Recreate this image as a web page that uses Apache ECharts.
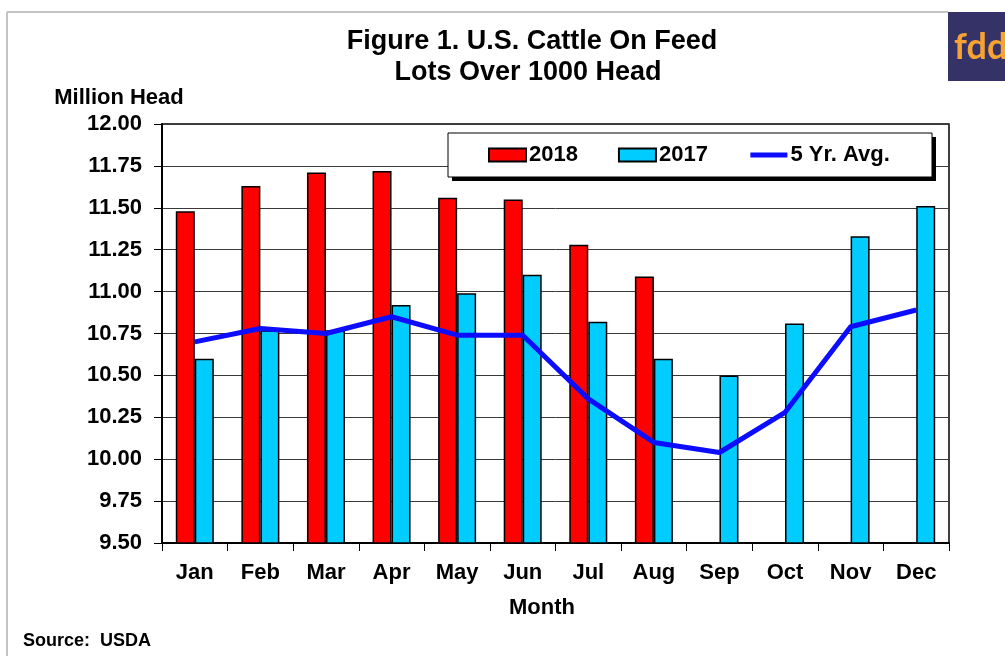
<!DOCTYPE html>
<html>
<head>
<meta charset="utf-8">
<script src="https://cdn.jsdelivr.net/npm/echarts@6/dist/echarts.min.js"></script>
<style>html,body{margin:0;padding:0;background:#fff}#c{width:1005px;height:656px}</style>
</head>
<body>
<div id="c"></div>
<script>
var months = ['Jan','Feb','Mar','Apr','May','Jun','Jul','Aug','Sep','Oct','Nov','Dec'];
var cattle2018 = [11.48, 11.63, 11.71, 11.72, 11.56, 11.55, 11.28, 11.09, null, null, null, null];
var cattle2017 = [10.60, 10.77, 10.77, 10.92, 10.99, 11.10, 10.82, 10.60, 10.50, 10.81, 11.33, 11.51];
var fiveYrAvg = [10.70, 10.78, 10.75, 10.85, 10.74, 10.74, 10.36, 10.10, 10.04, 10.28, 10.79, 10.89];
var yTicks = { min: 9.5, max: 12, step: 0.25 };

var FONT = 'Liberation Sans, Arial, sans-serif';
var LINE_COLOR = '#0c0cff';
var chart = echarts.init(document.getElementById('c'), null, { renderer: 'canvas' });
chart.setOption({
  animation: false,
  backgroundColor: '#fff',
  textStyle: { fontFamily: FONT },
  grid: { left: 162, top: 124, right: 56, bottom: 113, show: true, borderColor: '#000', borderWidth: 1.5, containLabel: false },
  graphic: [
    { type: 'line', shape: { x1: 7, y1: 12, x2: 948, y2: 12 }, style: { stroke: '#c4c4c4', lineWidth: 2 }, z: 0 },
    { type: 'line', shape: { x1: 7, y1: 12, x2: 7, y2: 656 }, style: { stroke: '#c4c4c4', lineWidth: 2 }, z: 0 },
    { type: 'rect', shape: { x: 948, y: 12, width: 60, height: 69 }, style: { fill: '#343266' }, z: 1 },
    { type: 'text', style: { text: 'fdd', x: 954, y: 47, font: 'bold 36px Lato, "Noto Sans", sans-serif', fill: '#f7a334', textVerticalAlign: 'middle' }, z: 2 },
    { type: 'text', style: { text: 'Figure 1. U.S. Cattle On Feed', x: 532, y: 42, font: 'bold 27px ' + FONT, fill: '#000', textAlign: 'center', textVerticalAlign: 'middle' } },
    { type: 'text', style: { text: 'Lots Over 1000 Head', x: 528, y: 73, font: 'bold 27px ' + FONT, fill: '#000', textAlign: 'center', textVerticalAlign: 'middle' } },
    { type: 'text', style: { text: 'Million Head', x: 119, y: 98, font: 'bold 22px ' + FONT, fill: '#000', textAlign: 'center', textVerticalAlign: 'middle' } },
    { type: 'text', style: { text: 'Month', x: 542, y: 608, font: 'bold 22px ' + FONT, fill: '#000', textAlign: 'center', textVerticalAlign: 'middle' } },
    { type: 'text', style: { text: 'Source:  USDA', x: 23, y: 641, font: 'bold 18px ' + FONT, fill: '#000', textAlign: 'left', textVerticalAlign: 'middle' } },
    { type: 'rect', shape: { x: 452, y: 137, width: 484, height: 44 }, style: { fill: '#000' }, z: 5 },
    { type: 'rect', shape: { x: 448, y: 133, width: 484, height: 44 }, style: { fill: '#fff', stroke: '#000', lineWidth: 1 }, z: 5 }
  ],
  legend: {
    left: 488, top: 143, padding: 0, itemGap: 40, itemWidth: 37, itemHeight: 13, z: 6,
    textStyle: { fontFamily: FONT, fontWeight: 'bold', fontSize: 22, color: '#000', lineHeight: 24, padding: [0, 0, 0, -2] },
    data: [
      { name: '2018', icon: 'rect' },
      { name: '2017', icon: 'rect' },
      { name: '5 Yr. Avg.', itemStyle: { opacity: 0 }, lineStyle: { width: 5, color: LINE_COLOR } }
    ]
  },
  xAxis: {
    type: 'category', data: months, boundaryGap: true,
    axisLine: { show: true, lineStyle: { color: '#000', width: 2 } },
    axisTick: { show: true, inside: false, length: 8, alignWithLabel: false, lineStyle: { color: '#000', width: 1 } },
    axisLabel: { fontFamily: FONT, fontWeight: 'bold', fontSize: 22, color: '#000', margin: 19, interval: 0 },
    splitLine: { show: false }
  },
  yAxis: {
    type: 'value', min: yTicks.min, max: yTicks.max, interval: yTicks.step,
    axisLine: { show: true, lineStyle: { color: '#000', width: 2 } },
    axisTick: { show: true, inside: false, length: 8, lineStyle: { color: '#000', width: 1 } },
    axisLabel: { fontFamily: FONT, fontWeight: 'bold', fontSize: 22, color: '#000', margin: 20, formatter: function (v) { return v.toFixed(2); } },
    splitLine: { show: true, lineStyle: { color: '#3a3a3a', width: 1 } }
  },
  series: [
    { name: '2018', type: 'bar', data: cattle2018, barWidth: 19, barGap: '0%',
      itemStyle: { color: '#ff0000', borderColor: '#000', borderWidth: 1.5 } },
    { name: '2017', type: 'bar', data: cattle2017, barWidth: 19, barGap: '0%',
      itemStyle: { color: '#00ccff', borderColor: '#000', borderWidth: 1.5 } },
    { name: '5 Yr. Avg.', type: 'line', data: fiveYrAvg, symbol: 'none', showSymbol: false, z: 3,
      lineStyle: { color: LINE_COLOR, width: 5 }, itemStyle: { color: LINE_COLOR } }
  ]
});
</script>
</body>
</html>
